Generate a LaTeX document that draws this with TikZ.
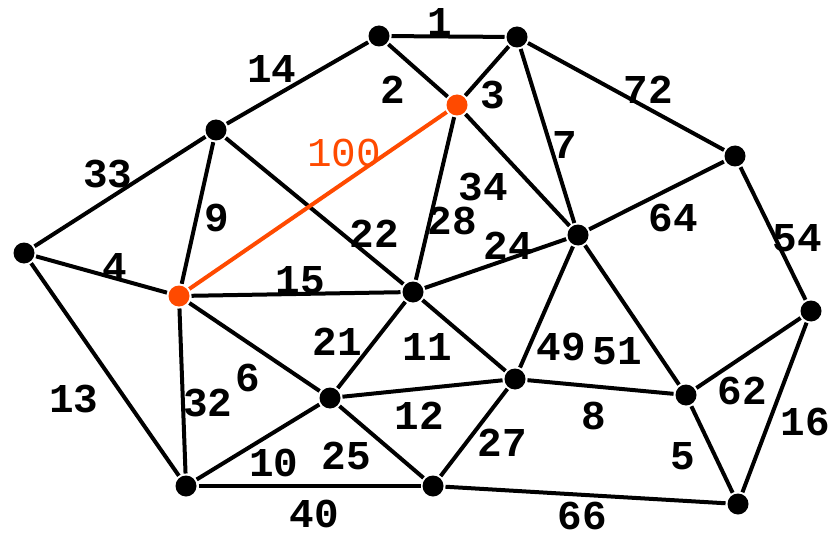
\documentclass[tikz,border=0pt]{standalone}
\usepackage{fontspec}
\setmonofont{Liberation Mono}
\usetikzlibrary{calc}
\definecolor{hiorange}{RGB}{255,74,0}

\begin{document}
\begin{tikzpicture}[x=1pt, y=-1pt, line width=4pt,
  every node/.style={font=\ttfamily\bfseries\fontsize{41}{41}\selectfont},
  vtx/.style={circle, fill=black, inner sep=0pt, minimum size=21pt},
  hivtx/.style={vtx, fill=hiorange},
  lbl/.style={inner sep=0pt}]
  \useasboundingbox (0,0) rectangle (832,540);
  % vertices
  \node[vtx] (A) at (379,36) {};
  \node[vtx] (B) at (517,37) {};
  \node[hivtx] (C) at (457,105) {};
  \node[vtx] (D) at (216,130) {};
  \node[vtx] (E) at (735,156) {};
  \node[vtx] (F) at (24,253) {};
  \node[vtx] (G) at (578,235) {};
  \node[hivtx] (H) at (179,296) {};
  \node[vtx] (I) at (413,292) {};
  \node[vtx] (J) at (811,311) {};
  \node[vtx] (K) at (330,398) {};
  \node[vtx] (L) at (515,379) {};
  \node[vtx] (M) at (686,395) {};
  \node[vtx] (N) at (186,486) {};
  \node[vtx] (O) at (433,486) {};
  \node[vtx] (P) at (738,504) {};
  % weighted edges
  \draw (A) -- (B) node[lbl] (w1) at (440,22) {1};
  \draw (A) -- (C) node[lbl] (w2) at (393,90) {2};
  \draw (B) -- (C) node[lbl] (w3) at (493,95) {3};
  \draw (A) -- (D) node[lbl] (w14) at (272,69) {14};
  \draw (D) -- (F) node[lbl] (w33) at (108,174) {33};
  \draw (B) -- (G) node[lbl] (w7) at (565,145) {7};
  \draw (B) -- (E) node[lbl] (w72) at (648,90) {72};
  \draw (C) -- (G) node[lbl] (w34) at (483,187) {34};
  \draw (C) -- (I) node[lbl] (w28) at (452,221) {28};
  \draw (D) -- (H) node[lbl] (w9) at (217,218) {9};
  \draw (D) -- (I) node[lbl] (w22) at (374,234) {22};
  \draw (E) -- (G) node[lbl] (w64) at (673,218) {64};
  \draw (E) -- (J) node[lbl] (w54) at (797,238) {54};
  \draw (F) -- (H) node[lbl] (w4) at (115,267) {4};
  \draw (F) -- (N) node[lbl] (w13) at (74,399) {13};
  \draw (H) -- (I) node[lbl] (w15) at (300,280) {15};
  \draw (I) -- (G) node[lbl] (w24) at (508,246) {24};
  \draw (G) -- (L) node[lbl] (w49) at (561,347) {49};
  \draw (G) -- (M) node[lbl] (w51) at (617,351) {51};
  \draw (H) -- (K) node[lbl] (w6) at (248,378) {6};
  \draw (H) -- (N) node[lbl] (w32) at (208,403) {32};
  \draw (I) -- (K) node[lbl] (w21) at (337,342) {21};
  \draw (I) -- (L) node[lbl] (w11) at (427,347) {11};
  \draw (K) -- (L) node[lbl] (w12) at (419,416) {12};
  \draw (K) -- (N) node[lbl] (w10) at (274,463) {10};
  \draw (K) -- (O) node[lbl] (w25) at (346,456) {25};
  \draw (L) -- (O) node[lbl] (w27) at (502,443) {27};
  \draw (L) -- (M) node[lbl] (w8) at (594,416) {8};
  \draw (M) -- (J) node[lbl] (w62) at (742,391) {62};
  \draw (M) -- (P) node[lbl] (w5) at (683,456) {5};
  \draw (J) -- (P) node[lbl] (w16) at (805,422) {16};
  \draw (N) -- (O) node[lbl] (w40) at (314,514) {40};
  \draw (O) -- (P) node[lbl] (w66) at (582,516) {66};
  % highlighted edge
  \draw[hiorange] (H) -- (C) node[lbl, text=hiorange, font=\ttfamily\fontsize{41}{41}\selectfont] (w100) at (344,153) {100};
\end{tikzpicture}
\end{document}
